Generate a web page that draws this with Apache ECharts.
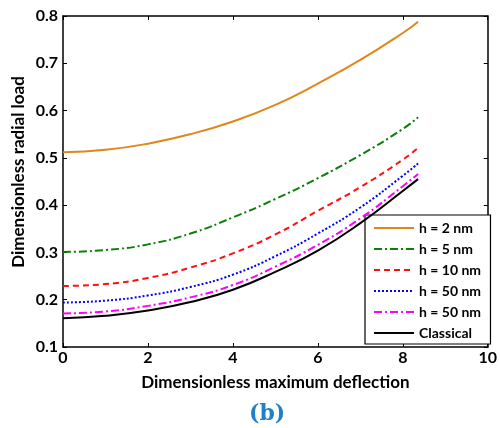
<!DOCTYPE html>
<html>
<head>
<meta charset="utf-8">
<script src="https://cdn.jsdelivr.net/npm/echarts@6/dist/echarts.min.js"></script>
<style>
html,body{margin:0;padding:0;background:#fff;}
#c{width:500px;height:428px;}
</style>
</head>
<body>
<div id="c"></div>
<script>
const xValues = [0, 1, 2, 3, 4, 5, 6, 7, 8, 8.36];
const seriesNames = ['h = 2 nm', 'h = 5 nm', 'h = 10 nm', 'h = 50 nm', 'h = 50 nm ', 'Classical'];
const h2 = [0.512, 0.517, 0.530, 0.550, 0.577, 0.612, 0.657, 0.707, 0.764, 0.788];
const h5 = [0.301, 0.305, 0.317, 0.340, 0.374, 0.413, 0.457, 0.506, 0.561, 0.586];
const h10 = [0.229, 0.233, 0.246, 0.268, 0.298, 0.338, 0.388, 0.438, 0.496, 0.521];
const h50a = [0.194, 0.198, 0.209, 0.227, 0.253, 0.292, 0.340, 0.395, 0.462, 0.488];
const h50b = [0.171, 0.175, 0.187, 0.205, 0.231, 0.270, 0.316, 0.372, 0.440, 0.466];
const classical = [0.161, 0.166, 0.177, 0.195, 0.221, 0.259, 0.304, 0.362, 0.430, 0.455];
const xTicks = [0, 2, 4, 6, 8, 10];
const yTicks = [0.1, 0.2, 0.3, 0.4, 0.5, 0.6, 0.7, 0.8];

const FONT = 'Lato';
function pairs(ys){ return xValues.map((x,i)=>[x, ys[i]]); }

const styles = [
  {color:'#e0861a', type:'solid', width:2},
  {color:'#0a800a', type:[8,3,2,3], width:2},
  {color:'#ff1010', type:[6,4], width:2},
  {color:'#0000ff', type:[2,2], width:2},
  {color:'#ff00ff', type:[8,3,2,3], width:2},
  {color:'#000000', type:'solid', width:2}
];
const allData = [h2, h5, h10, h50a, h50b, classical];

const axisCommon = {
  axisLine:{show:true, onZero:false, lineStyle:{color:'#000', width:1.5}},
  axisTick:{show:true, inside:true, length:4, lineStyle:{color:'#000'}},
  splitLine:{show:false}
};

const chart = echarts.init(document.getElementById('c'), null, {renderer:'canvas'});
chart.setOption({
  backgroundColor:'#fff',
  animation:false,
  grid:{left:63, right:10, top:16, bottom:81},
  graphic:[
    {type:'text', left:249, top:403,
      style:{text:'(b)', font:'bold 22px "DejaVu Serif"', fill:'#1f7fc8'}},
    {type:'text', x:19, y:172, rotation:Math.PI/2,
      style:{text:'Dimensionless radial load', font:'bold 17px Lato', fill:'#000',
        textAlign:'center', textVerticalAlign:'middle'}}
  ],
  legend:{
    orient:'vertical', left:365, top:215,
    backgroundColor:'#fff', borderColor:'#000', borderWidth:1.2,
    padding:[6,6,4,8], itemWidth:40, itemHeight:10, itemGap:7,
    itemStyle:{opacity:0},
    textStyle:{fontFamily:FONT, fontWeight:'bold', fontSize:14, color:'#000'},
    data:seriesNames
  },
  xAxis:[
    Object.assign({type:'value', position:'bottom', min:0, max:10, interval:2,
      name:'Dimensionless maximum deflection', nameLocation:'middle', nameGap:27,
      nameTextStyle:{fontFamily:FONT, fontWeight:'bold', fontSize:17, color:'#000'},
      axisLabel:{fontFamily:FONT, fontWeight:'bold', fontSize:16, color:'#000', margin:3,
        formatter:v=>xTicks.includes(v)?String(v):''}}, axisCommon),
    Object.assign({type:'value', position:'top', min:0, max:10, interval:2,
      axisLabel:{show:false}}, axisCommon)
  ],
  yAxis:[
    Object.assign({type:'value', position:'left', min:0.1, max:0.8, interval:0.1,
      axisLabel:{fontFamily:FONT, fontWeight:'bold', fontSize:16, color:'#000', margin:5,
        formatter:v=>{const t=yTicks.find(y=>Math.abs(y-v)<1e-6); return t!==undefined?t.toFixed(1):'';}}}, axisCommon),
    Object.assign({type:'value', position:'right', min:0.1, max:0.8, interval:0.1,
      axisLabel:{show:false}}, axisCommon)
  ],
  series: allData.map((d,i)=>({
    name:seriesNames[i], type:'line', smooth:true, symbol:'none',
    xAxisIndex:0, yAxisIndex:0,
    color:styles[i].color,
    lineStyle:{color:styles[i].color, type:styles[i].type, width:styles[i].width},
    data:pairs(d), z: 10 - i
  }))
});
</script>
</body>
</html>
